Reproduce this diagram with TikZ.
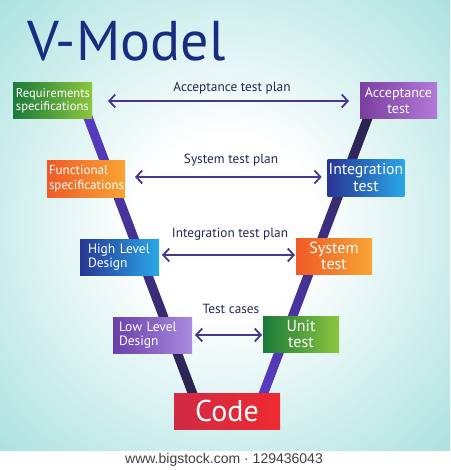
\documentclass[tikz,border=0pt]{standalone}
\usepackage{fontspec}
\setmainfont{PT Sans}
\newfontfamily\arialf{Liberation Sans}
\usetikzlibrary{arrows.meta,calc}
\definecolor{bgedge}{HTML}{5EC4BF}
\definecolor{bgmid}{HTML}{B0E4E2}
\definecolor{titlec}{HTML}{182C80}
\definecolor{lblc}{HTML}{1F2A50}
\definecolor{arrc}{HTML}{4A3690}
\definecolor{vpur}{HTML}{5A3CC8}
\definecolor{vdark}{HTML}{28234A}
\definecolor{grnL}{HTML}{1B7A3A}\definecolor{grnR}{HTML}{8CC63F}
\definecolor{orgL}{HTML}{F05A28}\definecolor{orgR}{HTML}{F8A533}
\definecolor{bluL}{HTML}{283593}\definecolor{bluR}{HTML}{29A8E8}
\definecolor{purL}{HTML}{6A3FA8}\definecolor{purR}{HTML}{A98BE0}
\definecolor{pu2L}{HTML}{7A3EA0}\definecolor{pu2R}{HTML}{B27AD8}
\definecolor{redL}{HTML}{D02A44}\definecolor{redR}{HTML}{EE2A30}
\pgfdeclareradialshading{bgshade}{\pgfpoint{0bp}{0bp}}{color(0bp)=(white); color(10bp)=(white); color(34bp)=(bgmid); color(52bp)=(bgedge); color(75bp)=(bgedge)}
\begin{document}
\begin{tikzpicture}[x=1pt,y=-1pt,
  box/.style={text=white, minimum height=36pt, inner ysep=0pt, outer sep=0pt},
  lbox/.style={box, align=left, inner xsep=#1},
  cbox/.style={box, align=center, inner xsep=1pt},
  lbl/.style={text=lblc, font=\fontsize{13.3}{15}\selectfont, inner sep=0pt},
  arr/.style={draw=arrc, line width=1.8pt, {Straight Barb[length=6pt,width=13pt,line width=1.8pt]}-{Straight Barb[length=6pt,width=13pt,line width=1.8pt]}}
]
\useasboundingbox (0,0) rectangle (450,470);
\fill[white] (0,450) rectangle (450,470);
\shade[shading=bgshade] (0,0) rectangle (450,450);

% V lines
\coordinate (lt) at (86,112);
\coordinate (lb) at (195,400);
\coordinate (rt) at (370,112);
\coordinate (rb) at (261,400);
\shade[top color=vpur, bottom color=vdark] ($(lt)+(-5,0)$) -- ($(lt)+(5,0)$) -- ($(lb)+(5,0)$) -- ($(lb)+(-5,0)$) -- cycle;
\shade[top color=vdark, bottom color=vpur] ($(rt)+(-5,0)$) -- ($(rt)+(5,0)$) -- ($(rb)+(5,0)$) -- ($(rb)+(-5,0)$) -- cycle;

% title
\node[anchor=base west, font=\fontsize{56}{60}\selectfont, text=titlec, inner sep=0pt] (title) at (27,61) {V-Model};

% left boxes
\node[lbox=3pt, left color=grnL, right color=grnR, minimum width=79pt, text width=73pt, font=\fontsize{12.6}{13.5}\selectfont] (req) at (52.5,101) {Requirements\\specifications};
\node[lbox=2pt, left color=orgL, right color=orgR, minimum width=78pt, text width=74pt, font=\fontsize{13}{15}\selectfont] (func) at (86,179) {Functional\\specifications};
\node[lbox=8pt, left color=bluL, right color=bluR, minimum width=79pt, text width=63pt, font=\fontsize{13.5}{14.5}\selectfont] (hld) at (119.5,257) {High Level\\Design};
\node[lbox=6pt, left color=purL, right color=purR, minimum width=79pt, text width=67pt, font=\fontsize{13.5}{14.5}\selectfont] (lld) at (152.5,335) {Low Level\\Design};

% right boxes
\node[cbox, left color=pu2L, right color=pu2R, minimum width=77pt, font=\fontsize{14}{15.5}\selectfont] (acc) at (398.5,100.5) {Acceptance\\test};
\node[cbox, left color=bluL, right color=bluR, minimum width=76pt, font=\fontsize{15.8}{17}\selectfont] (int) at (366,178) {Integration\\test};
\node[cbox, left color=orgL, right color=orgR, minimum width=76pt, font=\fontsize{16}{16}\selectfont] (sys) at (334,256) {System\\test};
\node[cbox, left color=grnL, right color=grnR, minimum width=76pt, font=\fontsize{16}{15.5}\selectfont] (unit) at (301,334) {Unit\\test};

% code
\node[box, left color=redL, right color=redR, minimum width=106pt, font=\fontsize{30}{30}\selectfont] (code) at (227,411) {Code};

% arrows
\draw[arr, shorten <=16pt, shorten >=11pt] (req.east) -- (req.east -| acc.west);
\draw[arr, shorten <=10pt, shorten >=6pt] ($(func.east)+(0,-2)$) -- ($(func.east -| int.west)+(0,-2)$);
\draw[arr, shorten <=3pt, shorten >=1pt] ($(hld.east)+(0,-2)$) -- ($(hld.east -| sys.west)+(0,-2)$);
\draw[arr, shorten <=3pt, shorten >=1pt] (lld.east) -- (lld.east -| unit.west);

% labels
\node[lbl] (l1) at (232,88) {Acceptance test plan};
\node[lbl] (l2) at (231,160) {System test plan};
\node[lbl] (l3) at (230,234) {Integration test plan};
\node[lbl] (l4) at (231,309) {Test cases};

% footer
\node[font=\arialf\fontsize{14}{16}\selectfont, text=black!75, inner sep=0pt] (foot) at (224,460) {www.bigstock.com · 129436043};
\end{tikzpicture}
\end{document}
